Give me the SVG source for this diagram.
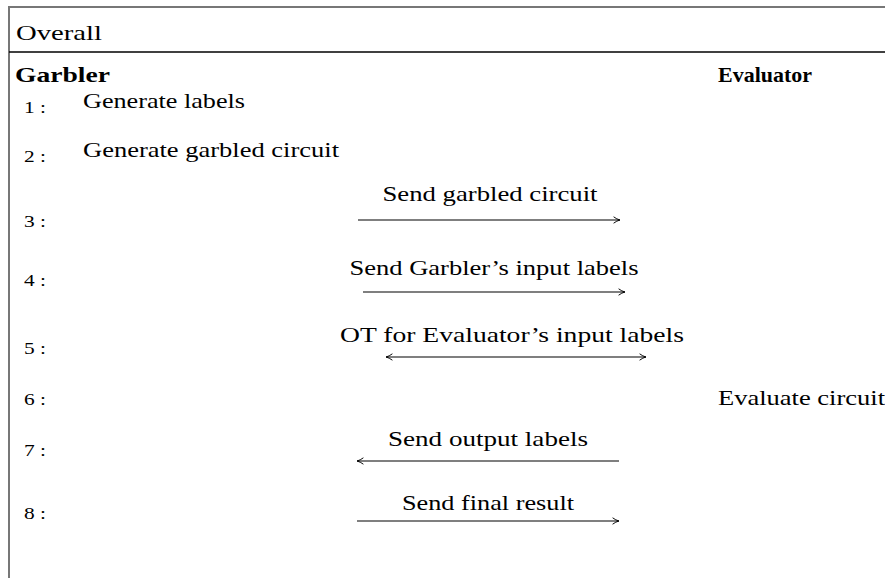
<svg xmlns="http://www.w3.org/2000/svg" width="885" height="578" viewBox="0 0 885 578">
<style>
text{font-family:"Liberation Serif","DejaVu Serif",serif;fill:#000}
.t{font-size:22px}
.b{font-size:22px;font-weight:bold}
.n{font-size:17px}
.ln{stroke:#000;stroke-width:1.2;fill:none}
</style>
<defs>
<marker id="ah" viewBox="0 0 10 10" refX="9" refY="5" markerWidth="8" markerHeight="8" markerUnits="userSpaceOnUse" orient="auto-start-reverse">
<path d="M1,1 Q5,4 9,5 Q5,6 1,9" fill="none" stroke="#000" stroke-width="1.2"/>
</marker>
</defs>
<rect width="885" height="578" fill="#fff"/>
<g id="frame">
<line x1="9" y1="7" x2="885" y2="7" stroke="#777" stroke-width="2"/>
<line x1="9" y1="6" x2="9" y2="578" stroke="#777" stroke-width="2"/>
<line x1="9" y1="52" x2="885" y2="52" stroke="#000" stroke-width="1.3"/>
<text class="t" x="16" y="40" textLength="86" lengthAdjust="spacingAndGlyphs">Overall</text>
</g>
<g id="garbler"><text class="b" x="15" y="82" textLength="95" lengthAdjust="spacingAndGlyphs">Garbler</text></g>
<g id="evaluator"><text class="b" x="718" y="82" textLength="94" lengthAdjust="spacingAndGlyphs">Evaluator</text></g>
<g id="steps">
<text class="n" x="24" y="113" textLength="22" lengthAdjust="spacingAndGlyphs">1 :</text>
<text class="n" x="24" y="162" textLength="22" lengthAdjust="spacingAndGlyphs">2 :</text>
<text class="n" x="24" y="227" textLength="22" lengthAdjust="spacingAndGlyphs">3 :</text>
<text class="n" x="24" y="286" textLength="22" lengthAdjust="spacingAndGlyphs">4 :</text>
<text class="n" x="24" y="354" textLength="22" lengthAdjust="spacingAndGlyphs">5 :</text>
<text class="n" x="24" y="405" textLength="22" lengthAdjust="spacingAndGlyphs">6 :</text>
<text class="n" x="24" y="456" textLength="22" lengthAdjust="spacingAndGlyphs">7 :</text>
<text class="n" x="24" y="519" textLength="22" lengthAdjust="spacingAndGlyphs">8 :</text>
</g>
<g id="step1"><text class="t" x="83" y="108" textLength="162" lengthAdjust="spacingAndGlyphs">Generate labels</text></g>
<g id="step2"><text class="t" x="83" y="157" textLength="256" lengthAdjust="spacingAndGlyphs">Generate garbled circuit</text></g>
<g id="step6"><text class="t" x="718" y="405" textLength="167" lengthAdjust="spacingAndGlyphs">Evaluate circuit</text></g>
<g id="connectors">
<g id="c3"><text class="t" x="490" y="201" text-anchor="middle" textLength="215" lengthAdjust="spacingAndGlyphs">Send garbled circuit</text>
<line class="ln" x1="358" y1="220" x2="620" y2="220" marker-end="url(#ah)"/></g>
<g id="c4"><text class="t" x="494" y="275" text-anchor="middle" textLength="289" lengthAdjust="spacingAndGlyphs">Send Garbler’s input labels</text>
<line class="ln" x1="363" y1="292" x2="625" y2="292" marker-end="url(#ah)"/></g>
<g id="c5"><text class="t" x="512" y="342" text-anchor="middle" textLength="344" lengthAdjust="spacingAndGlyphs">OT for Evaluator’s input labels</text>
<line class="ln" x1="386" y1="357" x2="646" y2="357" marker-start="url(#ah)" marker-end="url(#ah)"/></g>
<g id="c7"><text class="t" x="488" y="446" text-anchor="middle" textLength="200" lengthAdjust="spacingAndGlyphs">Send output labels</text>
<line class="ln" x1="357" y1="461" x2="619" y2="461" marker-start="url(#ah)"/></g>
<g id="c8"><text class="t" x="488" y="510" text-anchor="middle" textLength="172" lengthAdjust="spacingAndGlyphs">Send final result</text>
<line class="ln" x1="357" y1="521" x2="619" y2="521" marker-end="url(#ah)"/></g>
</g>
</svg>
